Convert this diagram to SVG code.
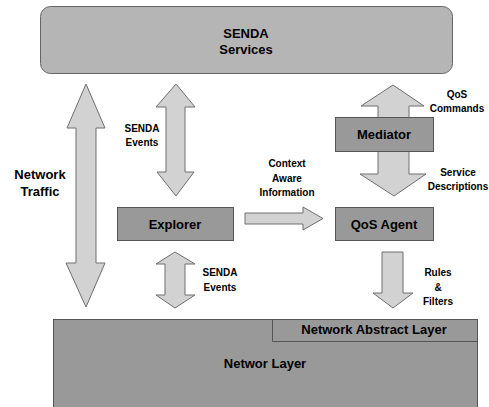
<svg xmlns="http://www.w3.org/2000/svg" width="489" height="407" viewBox="0 0 489 407">
<style>
text{font-family:"Liberation Sans",Arial,sans-serif;font-weight:bold;fill:#000;text-anchor:middle}
.big{font-size:13px}
.sm{font-size:10px}
.arrow{fill:#d2d2d2;stroke:#6e6e6e;stroke-width:1}
.box{fill:#999999;stroke:#555;stroke-width:1}
</style>
<rect width="489" height="407" fill="#fff"/>
<g id="connectors">
<polygon class="arrow" points="86,84 105,128 96,128 96,263 105,263 86,307 66,263 76,263 76,128 67,128"/>
<polygon class="arrow" points="176,84 195,107 185,107 185,172 194,172 176,196 157,172 166,172 166,107 156,107"/>
<polygon class="arrow" points="175,252 195,264 185,264 185,295 195,295 175,308 156,295 165,295 165,264 156,264"/>
<polygon class="arrow" points="393,85 424,106 409,106 409,174 426,174 394,196 360,174 378,174 378,106 361,106"/>
<polygon class="arrow" points="382,252 403,252 403,293 413,293 393,308 373,293 382,293"/>
<polygon class="arrow" points="245,213 303,213 303,207 323,218.5 303,230 303,224 245,224"/>
<text class="big" x="40" y="179">Network</text>
<text class="big" x="40" y="196">Traffic</text>
<text class="sm" x="142" y="132">SENDA</text>
<text class="sm" x="142" y="146">Events</text>
<text class="sm" x="220" y="276">SENDA</text>
<text class="sm" x="220" y="291">Events</text>
<text class="sm" x="287" y="167">Context</text>
<text class="sm" x="287" y="182">Aware</text>
<text class="sm" x="287" y="196">Information</text>
<text class="sm" x="457" y="98">QoS</text>
<text class="sm" x="457" y="112">Commands</text>
<text class="sm" x="458" y="176">Service</text>
<text class="sm" x="458" y="190">Descriptions</text>
<text class="sm" x="438" y="276">Rules</text>
<text class="sm" x="438" y="291">&amp;</text>
<text class="sm" x="438" y="305">Filters</text>
</g>
<g id="senda-services">
<rect x="40.5" y="6.5" width="412" height="67" rx="10" fill="#b5b5b5" stroke="#666"/>
<text class="big" x="246" y="38">SENDA</text>
<text class="big" x="246" y="54">Services</text>
</g>
<g id="mediator">
<rect class="box" x="335.5" y="117.5" width="98" height="34"/>
<text class="big" x="384" y="139">Mediator</text>
</g>
<g id="explorer">
<rect class="box" x="117.5" y="207.5" width="116" height="33"/>
<text class="big" x="175" y="229">Explorer</text>
</g>
<g id="qos-agent">
<rect class="box" x="335.5" y="207.5" width="98" height="33"/>
<text class="big" x="384" y="229">QoS Agent</text>
</g>
<g id="network-layer">
<rect class="box" x="53.5" y="319.5" width="424" height="100"/>
<text class="big" x="265" y="368">Networ Layer</text>
</g>
<g id="network-abstract-layer">
<path d="M272.5,319.5 V341.5 H477.5" fill="none" stroke="#555"/>
<text class="big" x="374" y="334">Network Abstract Layer</text>
</g>
</svg>
